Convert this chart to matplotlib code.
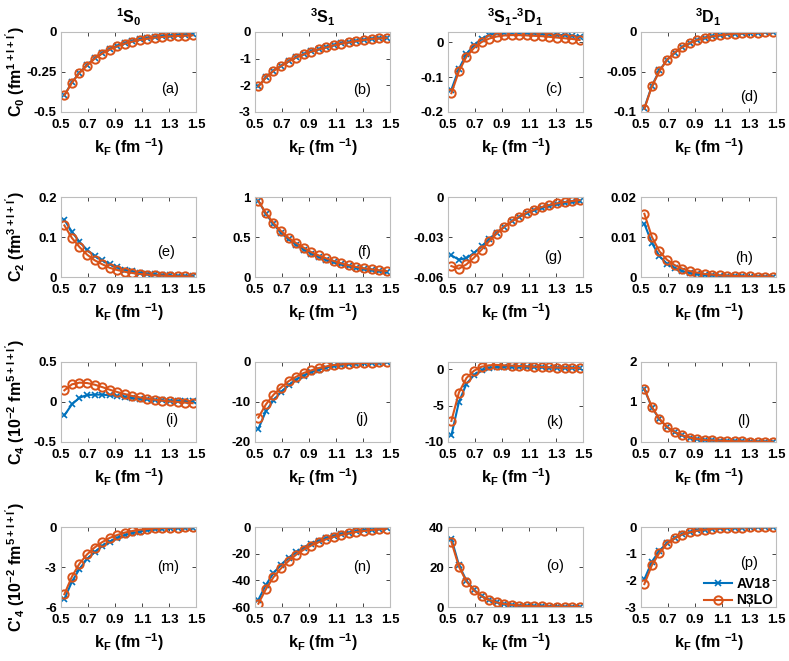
import numpy as np
import matplotlib
matplotlib.use("Agg")
import matplotlib.pyplot as plt

plt.rcParams['font.family'] = ['Liberation Sans', 'DejaVu Sans']
plt.rcParams['mathtext.fontset'] = 'custom'
plt.rcParams['mathtext.rm'] = 'Liberation Sans:bold'
plt.rcParams['mathtext.it'] = 'Liberation Sans:bold'
plt.rcParams['mathtext.bf'] = 'Liberation Sans:bold'
plt.rcParams['mathtext.default'] = 'rm'

kF = np.linspace(0.525, 1.475, 18)

# Row 1: C0
a_av18 = [-0.395, -0.315, -0.254, -0.207, -0.164, -0.131, -0.106, -0.086, -0.069, -0.056, -0.046, -0.038, -0.031, -0.026, -0.022, -0.019, -0.016, -0.014]
a_n3lo = [-0.396, -0.317, -0.256, -0.210, -0.167, -0.135, -0.110, -0.090, -0.073, -0.060, -0.050, -0.042, -0.035, -0.031, -0.027, -0.025, -0.023, -0.021]
b_av18 = [-2.04, -1.70, -1.45, -1.27, -1.10, -0.95, -0.83, -0.73, -0.64, -0.57, -0.49, -0.43, -0.38, -0.33, -0.29, -0.25, -0.23, -0.21]
b_n3lo = [-2.04, -1.71, -1.46, -1.28, -1.11, -0.96, -0.84, -0.74, -0.65, -0.58, -0.50, -0.44, -0.39, -0.34, -0.30, -0.26, -0.24, -0.22]
c_av18 = [-0.136, -0.076, -0.033, -0.008, 0.010, 0.022, 0.026, 0.028, 0.028, 0.028, 0.027, 0.026, 0.025, 0.023, 0.022, 0.021, 0.019, 0.017]
c_n3lo = [-0.146, -0.083, -0.041, -0.016, 0.001, 0.011, 0.017, 0.020, 0.021, 0.021, 0.020, 0.019, 0.018, 0.016, 0.014, 0.012, 0.010, 0.007]
d_av18 = [-0.095, -0.067, -0.048, -0.035, -0.026, -0.019, -0.014, -0.010, -0.0075, -0.0055, -0.004, -0.003, -0.002, -0.0017, -0.0012, -0.001, -0.0006, -0.0005]
d_n3lo = [-0.096, -0.068, -0.049, -0.035, -0.026, -0.019, -0.014, -0.010, -0.0075, -0.0055, -0.004, -0.003, -0.002, -0.0017, -0.0012, -0.001, -0.0006, -0.0005]

# Row 2: C2
e_av18 = [0.143, 0.113, 0.088, 0.068, 0.053, 0.042, 0.032, 0.024, 0.018, 0.014, 0.011, 0.008, 0.0065, 0.005, 0.004, 0.003, 0.0025, 0.002]
e_n3lo = [0.129, 0.0975, 0.075, 0.056, 0.042, 0.032, 0.023, 0.0175, 0.013, 0.010, 0.0075, 0.006, 0.004, 0.0033, 0.0025, 0.0017, 0.0015, 0.001]
f_av18 = [0.95, 0.79, 0.66, 0.555, 0.47, 0.40, 0.342, 0.292, 0.25, 0.215, 0.183, 0.157, 0.134, 0.114, 0.098, 0.085, 0.073, 0.063]
f_n3lo = [0.95, 0.80, 0.675, 0.575, 0.49, 0.425, 0.367, 0.312, 0.27, 0.233, 0.20, 0.17, 0.146, 0.125, 0.108, 0.096, 0.083, 0.075]
g_av18 = [-0.0438, -0.047, -0.0458, -0.042, -0.037, -0.0318, -0.0268, -0.0223, -0.0183, -0.015, -0.0123, -0.010, -0.0083, -0.0068, -0.0055, -0.0045, -0.0038, -0.0033]
g_n3lo = [-0.0518, -0.0538, -0.0505, -0.0455, -0.0395, -0.0333, -0.0275, -0.0225, -0.0183, -0.0148, -0.0118, -0.0095, -0.0075, -0.006, -0.0048, -0.0038, -0.003, -0.0023]
h_av18 = [0.0133, 0.0085, 0.0052, 0.0033, 0.0022, 0.0015, 0.001, 0.00075, 0.0005, 0.0004, 0.0003, 0.00025, 0.0002, 0.00015, 0.0001, 0.0001, 0.00008, 0.00006]
h_n3lo = [0.0158, 0.010, 0.0064, 0.0043, 0.003, 0.0021, 0.0015, 0.0011, 0.00075, 0.0006, 0.0004, 0.00033, 0.00025, 0.0002, 0.00015, 0.0001, 0.0001, 0.00008]

# Row 3: C4 (10^-2)
i_av18 = [-0.167, -0.029, 0.054, 0.087, 0.092, 0.092, 0.083, 0.075, 0.063, 0.050, 0.042, 0.033, 0.025, 0.021, 0.017, 0.012, 0.008, 0.008]
i_n3lo = [0.146, 0.221, 0.242, 0.237, 0.217, 0.187, 0.154, 0.125, 0.100, 0.075, 0.058, 0.042, 0.029, 0.017, 0.008, 0.0, -0.008, -0.015]
j_av18 = [-16.7, -12.3, -9.6, -7.5, -5.8, -4.4, -3.4, -2.6, -1.9, -1.4, -1.0, -0.75, -0.55, -0.4, -0.3, -0.22, -0.15, -0.1]
j_n3lo = [-13.9, -10.6, -8.2, -6.4, -4.8, -3.7, -2.75, -2.1, -1.5, -1.1, -0.75, -0.6, -0.4, -0.33, -0.25, -0.17, -0.1, -0.08]
k_av18 = [-9.1, -4.5, -2.0, -0.8, -0.15, 0.18, 0.3, 0.35, 0.35, 0.35, 0.32, 0.3, 0.27, 0.23, 0.2, 0.18, 0.17, 0.15]
k_n3lo = [-7.1, -3.2, -1.2, -0.2, 0.35, 0.55, 0.6, 0.55, 0.5, 0.45, 0.4, 0.35, 0.3, 0.27, 0.23, 0.2, 0.18, 0.15]
l_av18 = [1.32, 0.86, 0.57, 0.37, 0.245, 0.165, 0.11, 0.075, 0.05, 0.04, 0.033, 0.025, 0.017, 0.015, 0.01, 0.008, 0.007, 0.006]
l_n3lo = [1.33, 0.875, 0.58, 0.375, 0.25, 0.167, 0.11, 0.075, 0.05, 0.04, 0.033, 0.025, 0.017, 0.015, 0.01, 0.008, 0.007, 0.006]

# Row 4: C'4 (10^-2)
m_av18 = [-5.4, -4.1, -3.15, -2.4, -1.88, -1.44, -1.09, -0.82, -0.62, -0.47, -0.35, -0.25, -0.17, -0.12, -0.09, -0.07, -0.05, -0.04]
m_n3lo = [-5.04, -3.72, -2.75, -2.06, -1.54, -1.14, -0.82, -0.6, -0.42, -0.3, -0.2, -0.15, -0.1, -0.075, -0.05, -0.04, -0.03, -0.02]
n_av18 = [-54.6, -43.4, -34.7, -28.3, -23.1, -18.9, -15.4, -12.4, -10.2, -8.2, -6.7, -5.2, -4.2, -3.2, -2.5, -2.0, -1.5, -1.0]
n_n3lo = [-57.5, -46.6, -37.7, -31.0, -25.5, -20.8, -17.1, -13.9, -11.4, -9.2, -7.4, -6.0, -4.7, -3.7, -3.0, -2.2, -1.7, -1.2]
o_av18 = [34.2, 21.0, 13.2, 8.6, 5.5, 3.6, 2.4, 1.55, 1.05, 0.72, 0.5, 0.36, 0.3, 0.2, 0.15, 0.1, 0.1, 0.05]
o_n3lo = [32.6, 20.2, 12.7, 8.3, 5.3, 3.5, 2.3, 1.5, 1.0, 0.7, 0.5, 0.35, 0.3, 0.2, 0.15, 0.1, 0.1, 0.05]
p_av18 = [-1.96, -1.30, -0.89, -0.60, -0.41, -0.28, -0.195, -0.13, -0.095, -0.063, -0.048, -0.034, -0.024, -0.019, -0.014, -0.01, -0.008, -0.006]
p_n3lo = [-2.14, -1.43, -0.97, -0.64, -0.43, -0.285, -0.20, -0.135, -0.10, -0.065, -0.05, -0.035, -0.025, -0.02, -0.015, -0.01, -0.008, -0.006]

col_titles = [r"$^1$S$_0$", r"$^3$S$_1$", r"$^3$S$_1$-$^3$D$_1$", r"$^3$D$_1$"]
row_ylabels = [r"C$_0$ (fm$^{1+l+l'}$)", r"C$_2$ (fm$^{3+l+l'}$)",
               r"C$_4$ (10$^{-2}$ fm$^{5+l+l'}$)", r"C'$_4$ (10$^{-2}$ fm$^{5+l+l'}$)"]
xlabel_text = r"k$_F$ (fm $^{-1}$)"
panel_letters = list("abcdefghijklmnop")

series = [(a_av18, a_n3lo), (b_av18, b_n3lo), (c_av18, c_n3lo), (d_av18, d_n3lo),
          (e_av18, e_n3lo), (f_av18, f_n3lo), (g_av18, g_n3lo), (h_av18, h_n3lo),
          (i_av18, i_n3lo), (j_av18, j_n3lo), (k_av18, k_n3lo), (l_av18, l_n3lo),
          (m_av18, m_n3lo), (n_av18, n_n3lo), (o_av18, o_n3lo), (p_av18, p_n3lo)]

ylims = [(-0.5, 0), (-3, 0), (-0.2, 0.03), (-0.1, 0),
         (0, 0.2), (0, 1), (-0.06, 0), (0, 0.02),
         (-0.5, 0.5), (-20, 0), (-10, 1), (0, 2),
         (-6, 0), (-60, 0), (0, 40), (-3, 0)]
yticks = [[-0.5, -0.25, 0], [-3, -2, -1, 0], [-0.2, -0.1, 0], [-0.1, -0.05, 0],
          [0, 0.1, 0.2], [0, 0.5, 1], [-0.06, -0.03, 0], [0, 0.01, 0.02],
          [-0.5, 0, 0.5], [-20, -10, 0], [-10, -5, 0], [0, 1, 2],
          [-6, -3, 0], [-60, -40, -20, 0], [0, 20, 40], [-3, -2, -1, 0]]
ytlabels = [["-0.5", "-0.25", "0"], ["-3", "-2", "-1", "0"], ["-0.2", "-0.1", "0"], ["-0.1", "-0.05", "0"],
            ["0", "0.1", "0.2"], ["0", "0.5", "1"], ["-0.06", "-0.03", "0"], ["0", "0.01", "0.02"],
            ["-0.5", "0", "0.5"], ["-20", "-10", "0"], ["-10", "-5", "0"], ["0", "1", "2"],
            ["-6", "-3", "0"], ["-60", "-40", "-20", "0"], ["0", "20", "40"], ["-3", "-2", "-1", "0"]]
label_pos = [(0.81, 0.29), (0.79, 0.28), (0.78, 0.29), (0.80, 0.19),
             (0.78, 0.31), (0.81, 0.31), (0.78, 0.25), (0.76, 0.24),
             (0.82, 0.275), (0.79, 0.29), (0.79, 0.25), (0.76, 0.26),
             (0.79, 0.50), (0.79, 0.50), (0.79, 0.51), (0.80, 0.55)]
xticks = [0.5, 0.7, 0.9, 1.1, 1.3, 1.5]
xticklabels = ["0.5", "0.7", "0.9", "1.1", "1.3", "1.5"]

W, H = 789, 661
fig = plt.figure(figsize=(W / 100, H / 100), dpi=100)
lefts = [61, 255, 448, 641]
tops = [32, 197, 362, 527]
aw, ah = 135, 80

blue = '#0072BD'
orange = '#D95319'

for idx in range(16):
    r, c = divmod(idx, 4)
    ax = fig.add_axes([lefts[c] / W, 1 - (tops[r] + ah) / H, aw / W, ah / H])
    av, n3 = series[idx]
    ax.plot(kF, av, '-', color=blue, marker='x', markersize=4, mew=1.2, lw=1.5, label='AV18')
    ax.plot(kF, n3, '-', color=orange, marker='o', markersize=6, mfc='none', mew=1.4, lw=1.5, label='N3LO')
    ax.set_xlim(0.5, 1.5)
    ax.set_ylim(*ylims[idx])
    ax.set_xticks(xticks)
    ax.set_xticklabels(xticklabels)
    ax.set_yticks(yticks[idx])
    ax.set_yticklabels(ytlabels[idx])
    ax.tick_params(direction='in', length=3, width=0.6, color='#262626', labelsize=9.5,
                   top=True, right=True)
    ax.tick_params(axis='x', pad=5)
    ax.tick_params(axis='y', pad=3)
    for lab in ax.get_xticklabels() + ax.get_yticklabels():
        lab.set_fontweight('bold')
    for s in ax.spines.values():
        s.set_color('#BDBDBD')
        s.set_linewidth(0.8)
    ax.set_xlabel(xlabel_text, fontsize=11.5, fontweight='bold', labelpad=4)
    if c == 0:
        ax.set_ylabel(row_ylabels[r], fontsize=11.5, fontweight='bold')
        ax.yaxis.set_label_coords(-0.25, 0.5)
    if r == 0:
        ax.set_title(col_titles[c], fontsize=11.5, fontweight='bold', pad=6)
    lx, ly = label_pos[idx]
    ax.text(lx, ly, f"({panel_letters[idx]})", transform=ax.transAxes, fontsize=10.5,
            ha='center', va='center')
    if idx == 15:
        leg = ax.legend(loc='lower right', bbox_to_anchor=(1.0, -0.04), frameon=False,
                        fontsize=10, handlelength=2.0, borderaxespad=0.0,
                        labelspacing=0.2, handletextpad=0.3, borderpad=0.2)
        for t in leg.get_texts():
            t.set_fontweight('bold')

fig.savefig("out.png", dpi=100)
